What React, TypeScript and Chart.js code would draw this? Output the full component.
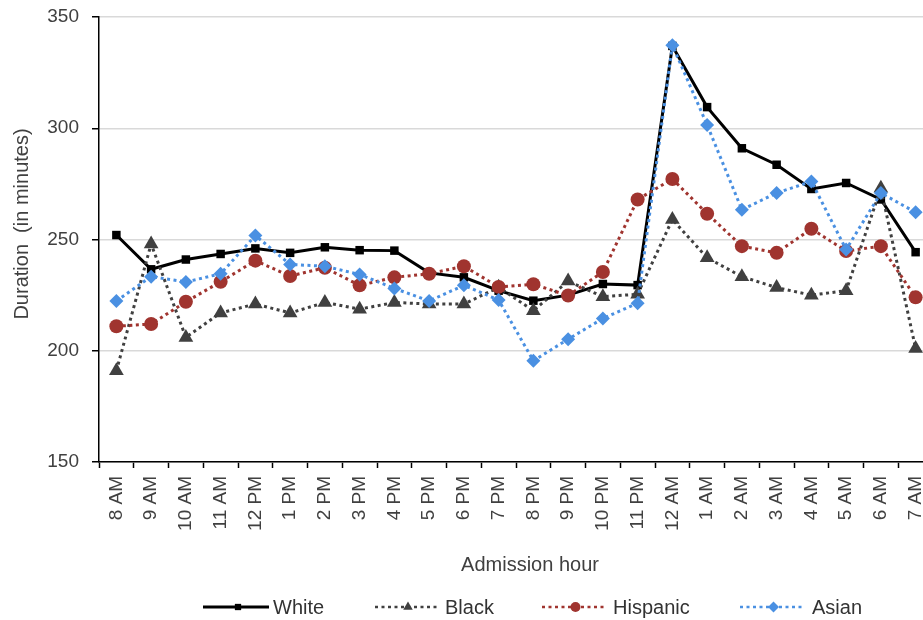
import React, { useEffect, useRef } from "react";
import { Chart, registerables } from "chart.js";

Chart.register(...registerables);

const hours = [
  "8 AM", "9 AM", "10 AM", "11 AM", "12 PM", "1 PM", "2 PM", "3 PM", "4 PM", "5 PM", "6 PM", "7 PM",
  "8 PM", "9 PM", "10 PM", "11 PM", "12 AM", "1 AM", "2 AM", "3 AM", "4 AM", "5 AM", "6 AM", "7 AM",
];

const white = [252, 236.6, 241, 243.5, 246, 244, 246.5, 245.2, 245, 235, 233, 227, 222.5, 225, 230, 229.5, 337, 309.5, 291, 283.6, 272.7, 275.4, 268, 244.3];
const black = [191, 248, 206, 217, 221, 217, 221.7, 218.7, 221.7, 221, 221, 228.5, 218, 231.3, 224.3, 225.4, 259, 241.8, 233.3, 228.4, 225, 227, 273, 201];
const hispanic = [211, 212, 222, 231, 240.5, 233.6, 237.3, 229.4, 233, 234.6, 238, 228.7, 229.9, 224.8, 235.4, 268, 277.2, 261.6, 247, 244, 254.8, 244.8, 247, 224];
const asian = [222.4, 233.3, 230.9, 234.6, 251.8, 238.8, 238, 234.3, 228, 222.4, 229.4, 222.8, 195.5, 205.2, 214.5, 221.4, 337.3, 301.5, 263.4, 270.9, 276.1, 245.5, 270.9, 262.2];

const yTicks = [150, 200, 250, 300, 350];

const FONT = '"Liberation Sans", Arial, sans-serif';
const TEXT = "#404040";

const series = [
  { label: "White", data: white, color: "#000000", style: "rect", radius: 6, dash: [] as number[], order: 3, legendRadius: 4.5 },
  { label: "Black", data: black, color: "#404040", style: "triangle", radius: 8.5, dash: [3, 3.5], order: 2, legendRadius: 5.5 },
  { label: "Hispanic", data: hispanic, color: "#A0342F", style: "circle", radius: 7, dash: [3, 3.5], order: 1, legendRadius: 5 },
  { label: "Asian", data: asian, color: "#4A90E2", style: "rectRot", radius: 7, dash: [3, 3.5], order: 0, legendRadius: 5.5 },
];

const legendItems = [
  { x1: 203, x2: 269, tx: 273 },
  { x1: 375, x2: 437, tx: 445 },
  { x1: 542, x2: 605, tx: 613 },
  { x1: 740, x2: 803, tx: 812 },
];

const decorPlugin = {
  id: "decor",
  afterDraw(chart: any) {
    const ctx = chart.ctx as CanvasRenderingContext2D;
    ctx.save();
    ctx.fillStyle = TEXT;
    ctx.font = `20px ${FONT}`;
    ctx.textAlign = "center";
    ctx.textBaseline = "middle";
    ctx.fillText("Admission hour", 530, 565);
    ctx.save();
    ctx.translate(22, 224);
    ctx.rotate(-Math.PI / 2);
    ctx.fillText("Duration  (in minutes)", 0, 0);
    ctx.restore();

    const ly = 607;
    series.forEach((s, i) => {
      const it = legendItems[i];
      ctx.save();
      ctx.strokeStyle = s.color;
      ctx.lineWidth = i === 0 ? 3 : 2.5;
      ctx.setLineDash(s.dash);
      ctx.beginPath();
      ctx.moveTo(it.x1, ly);
      ctx.lineTo(it.x2, ly);
      ctx.stroke();
      ctx.setLineDash([]);
      ctx.fillStyle = s.color;
      const cx = (it.x1 + it.x2) / 2 + 2;
      const r = s.legendRadius;
      ctx.beginPath();
      if (s.style === "rect") {
        ctx.rect(cx - r * 0.7, ly - r * 0.7, r * 1.4, r * 1.4);
      } else if (s.style === "triangle") {
        ctx.moveTo(cx, ly - r);
        ctx.lineTo(cx + r * 0.866, ly + r * 0.5);
        ctx.lineTo(cx - r * 0.866, ly + r * 0.5);
        ctx.closePath();
      } else if (s.style === "circle") {
        ctx.arc(cx, ly, r, 0, Math.PI * 2);
      } else {
        ctx.moveTo(cx, ly - r);
        ctx.lineTo(cx + r, ly);
        ctx.lineTo(cx, ly + r);
        ctx.lineTo(cx - r, ly);
        ctx.closePath();
      }
      ctx.fill();
      ctx.restore();
      ctx.fillStyle = "#333333";
      ctx.font = `20px ${FONT}`;
      ctx.textAlign = "left";
      ctx.textBaseline = "middle";
      ctx.fillText(s.label, it.tx, ly + 1);
    });
    ctx.restore();
  },
};

export default function App() {
  const ref = useRef<HTMLCanvasElement | null>(null);

  useEffect(() => {
    if (!ref.current) return;
    const chart = new Chart(ref.current, {
      type: "line",
      data: {
        labels: hours,
        datasets: series.map((s) => ({
          label: s.label,
          data: s.data,
          borderColor: s.color,
          backgroundColor: s.color,
          borderWidth: 3,
          borderDash: s.dash,
          pointStyle: s.style as any,
          pointRadius: s.radius,
          pointBackgroundColor: s.color,
          pointBorderColor: s.color,
          pointBorderWidth: 0,
          tension: 0,
          fill: false,
          order: s.order,
        })),
      },
      options: {
        animation: false,
        responsive: false,
        devicePixelRatio: 1,
        layout: { padding: { left: 0, top: 17, right: 12, bottom: 0 } },
        plugins: {
          legend: { display: false },
          tooltip: { enabled: false },
          title: { display: false },
        },
        scales: {
          x: {
            type: "category",
            offset: true,
            afterFit: (scale: any) => {
              scale.height = 158;
              scale.paddingLeft = 0;
              scale.paddingRight = 0;
            },
            grid: {
              display: true,
              offset: true,
              drawOnChartArea: false,
              drawTicks: true,
              tickLength: 6,
              tickColor: "#000000",
              tickWidth: 1.5,
            },
            border: { display: true, color: "#000000", width: 1.5 },
            ticks: {
              autoSkip: false,
              minRotation: 90,
              maxRotation: 90,
              padding: 8,
              color: TEXT,
              font: { family: FONT, size: 19 },
            },
          },
          y: {
            min: yTicks[0],
            max: yTicks[yTicks.length - 1],
            afterFit: (scale: any) => {
              scale.width = 99;
              scale.paddingTop = 0;
              scale.paddingBottom = 0;
            },
            afterBuildTicks: (scale: any) => {
              scale.ticks = yTicks.map((v) => ({ value: v }));
            },
            grid: {
              color: "#D9D9D9",
              lineWidth: 1.5,
              drawTicks: true,
              tickLength: 7,
              tickColor: "#000000",
              tickWidth: 1.5,
            },
            border: { display: true, color: "#000000", width: 1.5 },
            ticks: {
              padding: 13,
              color: TEXT,
              font: { family: FONT, size: 19 },
            },
          },
        },
      },
      plugins: [decorPlugin],
    });
    return () => chart.destroy();
  }, []);

  return (
    <div style={{ position: "fixed", left: 0, top: 0, width: 923, height: 620, overflow: "hidden", background: "#fff" }}>
      <canvas ref={ref} width={945} height={620} style={{ display: "block" }} />
    </div>
  );
}
